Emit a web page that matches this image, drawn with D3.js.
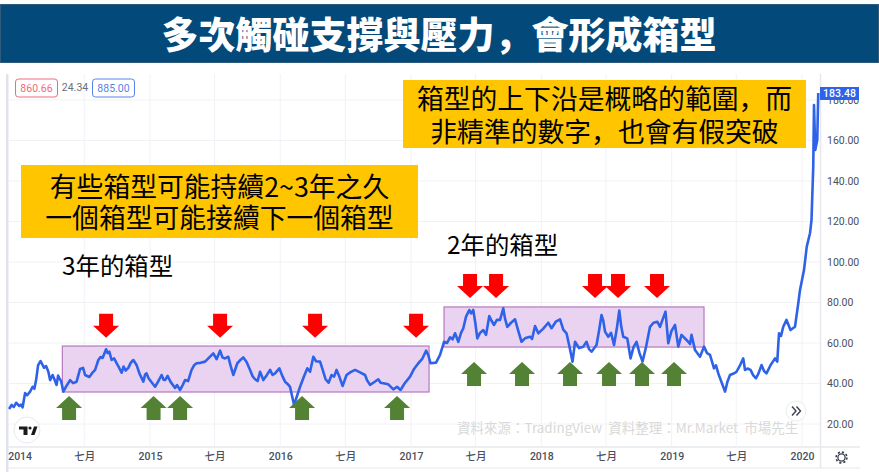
<!DOCTYPE html>
<html>
<head>
<meta charset="utf-8">
<script src="https://cdn.jsdelivr.net/npm/d3@7"></script>
<style>
    html, body { margin: 0; padding: 0; background: #fff; }
    text { font-family: "Noto Sans CJK TC", "Noto Sans", sans-serif; }
    .price text, .time text { font-family: "Roboto", "Noto Sans CJK TC", sans-serif; fill: #4a4f5c; }
</style>
</head>
<body>
<div id="chart"></div>
<script>
    // close price: [weeks since 2014-01-01, close]
    var closeByWeek = [
        [-4.2,27.4],[-3.2,29.4],[-2.3,28.4],[-1.4,30.5],[-0.1,28.9],[0.6,29.6],[1.2,28.2],[2.2,35.3],[3,34.2],[4.2,36.0],
        [5.2,38.4],[5.9,37.4],[6.6,41.7],[7.4,49.1],[8.4,51.1],[9.1,49.4],[9.8,47.7],[10.6,48.6],[11.5,45.8],[12.2,41.7],
        [13.2,44.2],[14,41.8],[14.8,39.3],[15.4,43.9],[15.9,42.7],[16.6,41.2],[17.5,36.0],[18.8,38.9],[20.2,41.7],[21.4,40.2],
        [22.8,40.9],[24.2,47.2],[25.4,47.7],[26.2,44.2],[27.9,43.2],[29,45.1],[30.2,46.7],[31.5,51.6],[32.4,53.1],[33.2,52.6],
        [34.6,56.9],[35.2,55],[35.9,55.7],[36.8,51.6],[37.8,52.4],[38.8,50.1],[39.8,47.8],[40.8,45.3],[41.6,48.4],[42.4,46.4],
        [43.5,47.7],[44.5,50.3],[45.5,51.6],[46.8,49.1],[48,44.8],[49.5,40.9],[50.2,44.4],[50.8,45.0],[51.6,42.6],[52.8,40.6],
        [54.2,38.4],[55.4,40.9],[56.8,44.2],[57.6,41.9],[58.2,41.7],[59.2,43.8],[60.4,40.8],[62.2,37.8],[63,39.2],[64.2,36.8],
        [65.2,39.1],[66.2,41.7],[67.4,41.2],[68.8,46.7],[69.8,49.0],[70.8,50.0],[72.4,50.2],[74.2,50.8],[75.8,52.8],[77.5,54.9],
        [78.8,52.0],[80.2,56.2],[81.2,52.8],[82.2,52.4],[83.5,53.2],[84.4,48.8],[85.5,44.2],[87.1,50.0],[88,51.2],[89.5,52.9],
        [90.8,50.6],[92.2,46.7],[93.2,43.6],[94.2,42.1],[95.2,41.2],[96.2,45.8],[97.5,41.7],[98.8,44.0],[100.2,46.7],[101.2,44.2],
        [102.2,45.0],[103.9,47.5],[105,44.0],[106.2,40.9],[107.2,39.8],[108.2,38.3],[109.8,29.4],[112.2,38.4],[113.6,43.0],[115.1,47.5],
        [116.2,45.8],[117.5,53.2],[118.6,51.0],[120.2,50.8],[121.2,47],[122.4,42.1],[123.6,40.4],[124.8,44.2],[125.8,43.4],[126.8,46.7],
        [127.9,43.4],[129.2,38.8],[130.8,44.2],[132.4,45.6],[134.2,46.7],[136,45.6],[138.2,44.2],[139,41.6],[140.2,39.3],[141.8,40.6],
        [143.5,42.1],[144.4,40.4],[145.5,40.1],[147.5,39.6],[149.5,37.1],[151,38.4],[152.4,36.8],[154,40],[156.2,43.4],[157.8,47.2],
        [159.5,50.0],[161,52],[162.6,56.2],[163.5,54],[164.4,50.0],[166.6,50.3],[168.2,54.1],[169.8,60.6],[171,60],[172.2,62.8],
        [173.2,61.8],[174.2,64.8],[175.5,60.6],[176.6,65],[177.5,67.3],[178.6,73],[179.9,76.3],[180.6,74.6],[181.5,76.3],[182.3,70],
        [183.1,62.3],[184.2,65],[185.5,66.4],[186.6,64.0],[187.9,73.3],[188.8,71],[189.8,68.9],[191,71.5],[192.2,71.4],[193.5,77.1],
        [194.2,72],[195.1,68.0],[196.6,70],[198.2,71.7],[199.5,66],[200.8,60.6],[202.4,62.5],[204.2,63.1],[205,62],[206.2,68.4],
        [207.5,64.8],[209.4,67],[211.5,70.0],[212.8,67.3],[214.5,70.5],[216.2,71.7],[217.5,66.6],[218.8,64.8],[220,58],[221.2,50.8],
        [222.2,60.6],[223.8,57.5],[225.5,58.2],[226.8,60.6],[227.8,57],[228.8,55.7],[230.8,59.0],[231.8,66],[232.8,73.8],[233.5,71],
        [234.2,65.6],[235.5,63.1],[236.6,65],[237.8,59.0],[238.9,67],[239.9,76.0],[240.7,68],[241.5,63.1],[243.1,62.3],[243.8,57],
        [244.4,52.4],[245.6,58],[246.8,60.6],[248,55],[249.2,50.8],[250.6,58],[252.2,68.0],[253.6,70],[255.1,70.5],[256.2,68.0],
        [257.3,71.8],[258.4,75.5],[259.5,59.9],[260.8,66],[262.2,68.9],[263.5,58.2],[264.8,64.0],[266.8,61.5],[268.2,59.5],[268.8,64.0],
        [270.2,56.5],[272.2,53.2],[273.8,58.2],[275,55],[276.2,54.1],[277.8,47.5],[278.6,49],[279.5,45.0],[281,40],[282.2,36.0],
        [283.2,41],[284.2,44.2],[285.4,44.8],[286.8,45.8],[288.2,49],[289.5,52.4],[290.2,46.7],[291.2,47.4],[292.4,46.7],[293.5,44],
        [294.6,42.6],[295.6,45],[296.8,49.1],[297.8,46.2],[298.8,45.0],[300.4,49],[302.2,52.4],[303.1,50.8],[303.8,64.8],[304.6,63.5],
        [305.5,68.0],[306.8,71.4],[308.4,66.4],[310.2,68.0],[311.5,79.6],[312.2,86.2],[313.8,96.0],[314.9,107.6],[316.2,114.2],[316.8,120.7],
        [317.5,147.1],[317.8,177.5],[318.3,155.3],[319.1,160.2],[319.5,183.48]
    ];

    var priceTicks = [20,40,60,80,100,120,140,160,180];
    var timeTicks = ["2014-01-01","2014-07-01","2015-01-01","2015-07-01","2016-01-01","2016-07-01","2017-01-01",
        "2017-07-01","2018-01-01","2018-07-01","2019-01-01","2019-07-01","2020-01-01"];
    var timeLabels = ["2014","七月","2015","七月","2016","七月","2017","七月","2018","七月","2019","七月","2020"];

    // the two boxes: start week, end week, top price, bottom price
    var boxStart = [17.1,169.8], boxEnd = [163.8,273.8], boxTop = [58.5,77.8], boxBottom = [35.8,58.0];
    var redWeeks = [34.6,80.2,118.2,158.6,180.2,190.6,230.2,239.4,255.0];
    var redTips = [62.6,62.6,62.6,62.6,82.2,82.2,82.2,82.2,82.2];
    var greenWeeks = [19.8,53.6,64.2,113,151,181.8,201,220.2,235.8,249,261.8];
    var greenTips = [33.8,33.8,33.8,33.8,33.8,50.6,50.6,50.6,50.6,50.6,50.6];

    var titleText = "多次觸碰支撐與壓力，會形成箱型";
    var noteLeft = ["有些箱型可能持續2~3年之久","一個箱型可能接續下一個箱型"];
    var noteRight = ["箱型的上下沿是概略的範圍，而","非精準的數字，也會有假突破"];
    var sourceText = "資料來源：TradingView  資料整理：Mr.Market  市場先生";

    var width = 879, height = 472;
    var svg = d3.select("#chart").append("svg").attr("width", width).attr("height", height).style("display", "block");

    var parseDay = d3.timeParse("%Y-%m-%d");
    var weekZero = parseDay("2014-01-01").getTime();
    function weekDate(w) { return new Date(weekZero + w * 7 * 864e5); }

    var x = d3.scaleTime().domain([parseDay("2014-01-01"), parseDay("2020-01-01")]).range([19.6, 802]);
    var y = d3.scaleLinear().domain([20, 180]).range([424, 100]);

    // panel frame
    svg.append("rect").attr("x", 6).attr("y", 74).attr("width", 2.5).attr("height", 398).attr("fill", "#e0e3eb");
    svg.append("line").attr("x1", 8).attr("x2", 860).attr("y1", 447).attr("y2", 447).attr("stroke", "#e6e8ee").attr("stroke-width", 1.5);
    svg.append("line").attr("x1", 8).attr("x2", 860).attr("y1", 468).attr("y2", 468).attr("stroke", "#e6e8ee");
    svg.append("line").attr("x1", 820.5).attr("x2", 820.5).attr("y1", 74).attr("y2", 468).attr("stroke", "#e6e8ee").attr("stroke-width", 1.5);

    // grid
    var xAxis = d3.axisBottom(x).tickValues(timeTicks.map(parseDay)).tickSize(0).tickPadding(0)
        .tickFormat(function(d, i) { return timeLabels[i]; });
    var yAxis = d3.axisRight(y).tickValues(priceTicks).tickSize(0).tickPadding(0).tickFormat(d3.format(".2f"));

    svg.append("g").selectAll("line").data(timeTicks.slice(1)).enter().append("line")
        .attr("x1", function(d) { return x(parseDay(d)); }).attr("x2", function(d) { return x(parseDay(d)); })
        .attr("y1", 74).attr("y2", 447).attr("stroke", "#f1f2f6");
    svg.append("g").selectAll("line").data(priceTicks).enter().append("line")
        .attr("x1", 8).attr("x2", 820).attr("y1", function(d) { return y(d); }).attr("y2", function(d) { return y(d); })
        .attr("stroke", "#f1f2f6");

    var timeG = svg.append("g").attr("class", "time").attr("transform", "translate(0,453)").call(xAxis);
    timeG.select(".domain").remove();
    timeG.selectAll("text").attr("font-size", 10.5).attr("font-weight", 500);
    var priceG = svg.append("g").attr("class", "price").attr("transform", "translate(827,0)").call(yAxis);
    priceG.select(".domain").remove();
    priceG.selectAll("text").attr("font-size", 10.5).attr("text-anchor", "start");

    // boxes under the line
    svg.append("g").selectAll("rect").data(boxStart).enter().append("rect")
        .attr("x", function(d) { return x(weekDate(d)); })
        .attr("y", function(d, i) { return y(boxTop[i]); })
        .attr("width", function(d, i) { return x(weekDate(boxEnd[i])) - x(weekDate(d)); })
        .attr("height", function(d, i) { return y(boxBottom[i]) - y(boxTop[i]); })
        .attr("fill", "#ead3f1").attr("stroke", "#b678c0").attr("stroke-width", 1.2);

    var line = d3.line()
        .x(function(d) { return x(weekDate(d[0])); })
        .y(function(d) { return y(d[1]); });
    svg.append("path").datum(closeByWeek).attr("d", line).attr("fill", "none").attr("stroke", "#2e62e8")
        .attr("stroke-width", 2.6).attr("stroke-linejoin", "round");

    // arrows, drawn around the tip point
    function arrowPath(dir) {
        return "M0,0 L" + (-13) + "," + (-dir * 12) + " L-7," + (-dir * 12) + " L-7," + (-dir * 24) +
            " L7," + (-dir * 24) + " L7," + (-dir * 12) + " L13," + (-dir * 12) + " Z";
    }
    svg.append("g").selectAll("path").data(redWeeks).enter().append("path")
        .attr("d", arrowPath(1)).attr("fill", "#ff0000")
        .attr("transform", function(d, i) { return "translate(" + x(weekDate(d)) + "," + y(redTips[i]) + ")"; });
    svg.append("g").selectAll("path").data(greenWeeks).enter().append("path")
        .attr("d", arrowPath(-1)).attr("fill", "#548235")
        .attr("transform", function(d, i) { return "translate(" + x(weekDate(d)) + "," + y(greenTips[i]) + ")"; });

    // the comma sits low-left in the original font, the SC glyph does that here
    function fillWithComma(sel, str) {
        str.split(/(，)/).forEach(function(part) {
            var span = sel.append("tspan").text(part);
            if (part === "，") { span.style("font-family", '"Noto Sans CJK SC"'); }
        });
    }

    // title bar
    svg.append("rect").attr("x", 0.5).attr("y", 4.5).attr("width", 878).attr("height", 58)
        .attr("fill", "#03497a").attr("stroke", "#2f5b7c");
    svg.append("text").attr("x", 439).attr("y", 49).attr("text-anchor", "middle").attr("font-size", 37)
        .attr("font-weight", 900).attr("fill", "#fff").call(fillWithComma, titleText);

    // yellow notes
    function note(left, top, w, h, lines, baseline, gap) {
        svg.append("rect").attr("x", left).attr("y", top).attr("width", w).attr("height", h).attr("fill", "#ffc600");
        lines.forEach(function(d, i) {
            svg.append("text").attr("x", left + w / 2).attr("y", baseline + i * gap)
                .attr("text-anchor", "middle").attr("font-size", 26.8).attr("fill", "#000").call(fillWithComma, d);
        });
    }
    note(21, 165, 397, 73, noteLeft, 197, 31);
    note(403, 80, 403, 68, noteRight, 109, 33);

    svg.append("text").attr("x", 62).attr("y", 275).attr("font-size", 24.4).attr("fill", "#000").text("3年的箱型");
    svg.append("text").attr("x", 447).attr("y", 254).attr("font-size", 24.4).attr("fill", "#000").text("2年的箱型");

    // watermark
    svg.append("text").attr("x", 457).attr("y", 433).attr("font-size", 13.5).attr("fill", "#d9d9d9")
        .attr("xml:space", "preserve").text(sourceText);

    // tradingview bits
    function badge(left, w, color, label) {
        svg.append("rect").attr("x", left).attr("y", 79).attr("width", w).attr("height", 18).attr("rx", 3)
            .attr("fill", "#fff").attr("stroke", color);
        svg.append("text").attr("x", left + w / 2).attr("y", 92).attr("text-anchor", "middle").attr("font-size", 10.5)
            .attr("fill", color).style("font-family", "Roboto").text(label);
    }
    badge(15.5, 42, "#ef6a7a", "860.66");
    svg.append("text").attr("x", 75).attr("y", 91).attr("text-anchor", "middle").attr("font-size", 10.5)
        .attr("fill", "#6b6f7a").style("font-family", "Roboto").text("24.34");
    badge(92.5, 42, "#5b82e8", "885.00");

    svg.append("rect").attr("x", 820).attr("y", 87).attr("width", 39).attr("height", 13).attr("fill", "#2e62e8");
    svg.append("text").attr("x", 839.5).attr("y", 97).attr("text-anchor", "middle").attr("font-size", 10.5)
        .attr("font-weight", 500).attr("fill", "#fff").style("font-family", "Roboto").text("183.48");

    // logo
    svg.append("circle").attr("cx", 27).attr("cy", 430).attr("r", 13).attr("fill", "#fff").attr("stroke", "#e8e9ee");
    svg.append("path").attr("fill", "#1a1a1a").attr("d", "M19,426.5 H27.5 V435 H23.5 V429.5 H19 Z M31,435 L34,426.5 H37.5 L34.5,435 Z");
    svg.append("circle").attr("cx", 30).attr("cy", 428).attr("r", 1.6).attr("fill", "#1a1a1a");

    // scroll button
    svg.append("circle").attr("cx", 796).attr("cy", 411).attr("r", 10).attr("fill", "#fff").attr("stroke", "#ececf0");
    svg.append("path").attr("fill", "none").attr("stroke", "#3c4150").attr("stroke-width", 1.4)
        .attr("d", "M792,406.5 L796,411 L792,415.5 M796.5,406.5 L800.5,411 L796.5,415.5");

    // settings gear
    svg.append("circle").attr("cx", 841.5).attr("cy", 457.5).attr("r", 3.6).attr("fill", "none").attr("stroke", "#3c4150").attr("stroke-width", 1.3);
    svg.append("circle").attr("cx", 841.5).attr("cy", 457.5).attr("r", 5.4).attr("fill", "none").attr("stroke", "#3c4150")
        .attr("stroke-width", 1.6).attr("stroke-dasharray", "2.2 2");
</script>
</body>
</html>
